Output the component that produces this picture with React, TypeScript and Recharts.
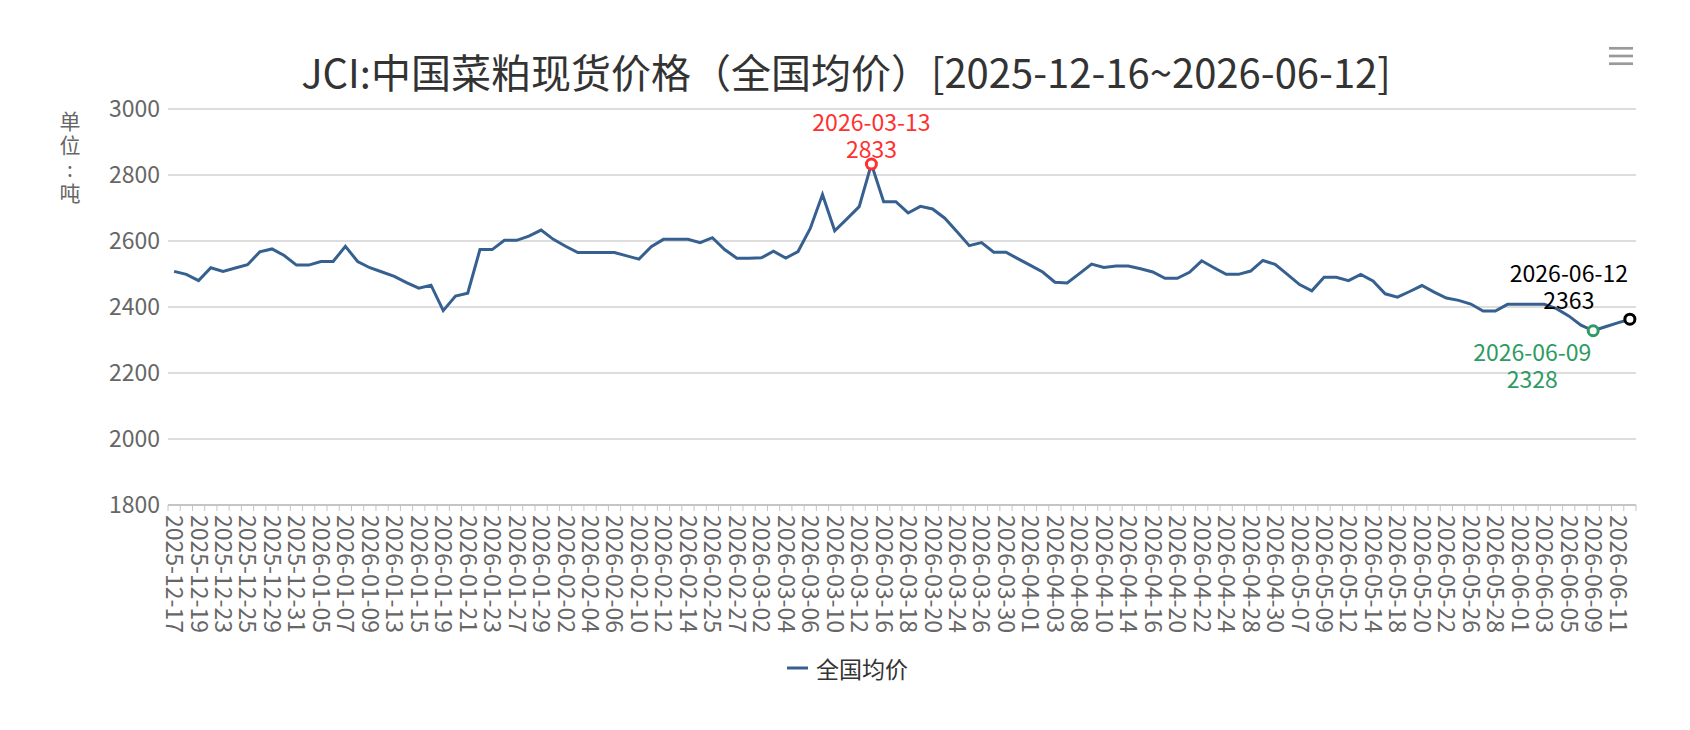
import React from 'react';
import { LineChart, Line, XAxis, YAxis, CartesianGrid } from 'recharts';

// ---------- data ----------
const dates = [
  '2025-12-17', '2025-12-18', '2025-12-19', '2025-12-22', '2025-12-23', '2025-12-24', '2025-12-25', '2025-12-26',
  '2025-12-29', '2025-12-30', '2025-12-31', '2026-01-04', '2026-01-05', '2026-01-06', '2026-01-07', '2026-01-08',
  '2026-01-09', '2026-01-12', '2026-01-13', '2026-01-14', '2026-01-15', '2026-01-16', '2026-01-19', '2026-01-20',
  '2026-01-21', '2026-01-22', '2026-01-23', '2026-01-26', '2026-01-27', '2026-01-28', '2026-01-29', '2026-01-30',
  '2026-02-02', '2026-02-03', '2026-02-04', '2026-02-05', '2026-02-06', '2026-02-09', '2026-02-10', '2026-02-11',
  '2026-02-12', '2026-02-13', '2026-02-14', '2026-02-24', '2026-02-25', '2026-02-26', '2026-02-27', '2026-02-28',
  '2026-03-02', '2026-03-03', '2026-03-04', '2026-03-05', '2026-03-06', '2026-03-09', '2026-03-10', '2026-03-11',
  '2026-03-12', '2026-03-13', '2026-03-16', '2026-03-17', '2026-03-18', '2026-03-19', '2026-03-20', '2026-03-23',
  '2026-03-24', '2026-03-25', '2026-03-26', '2026-03-27', '2026-03-30', '2026-03-31', '2026-04-01', '2026-04-02',
  '2026-04-03', '2026-04-07', '2026-04-08', '2026-04-09', '2026-04-10', '2026-04-13', '2026-04-14', '2026-04-15',
  '2026-04-16', '2026-04-17', '2026-04-20', '2026-04-21', '2026-04-22', '2026-04-23', '2026-04-24', '2026-04-27',
  '2026-04-28', '2026-04-29', '2026-04-30', '2026-05-06', '2026-05-07', '2026-05-08', '2026-05-09', '2026-05-11',
  '2026-05-12', '2026-05-13', '2026-05-14', '2026-05-15', '2026-05-18', '2026-05-19', '2026-05-20', '2026-05-21',
  '2026-05-22', '2026-05-25', '2026-05-26', '2026-05-27', '2026-05-28', '2026-05-29', '2026-06-01', '2026-06-02',
  '2026-06-03', '2026-06-04', '2026-06-05', '2026-06-08', '2026-06-09', '2026-06-10', '2026-06-11', '2026-06-12',
];

const values = [
  2508, 2499, 2480, 2519, 2508, 2518, 2528, 2567,
  2576, 2556, 2527, 2527, 2538, 2538, 2584, 2538,
  2519, 2506, 2493, 2474, 2457, 2466, 2389, 2433,
  2442, 2574, 2574, 2602, 2602, 2615, 2633, 2605,
  2584, 2565, 2565, 2565, 2565, 2555, 2545, 2583,
  2605, 2605, 2605, 2595, 2610, 2574, 2548, 2548,
  2549, 2569, 2548, 2568, 2638, 2741, 2631, 2667,
  2704, 2833, 2719, 2719, 2685, 2705, 2697, 2669,
  2628, 2586, 2595, 2566, 2566, 2546, 2526, 2506,
  2475, 2473, 2501, 2530, 2520, 2524, 2524, 2516,
  2506, 2487, 2487, 2505, 2540, 2519, 2499, 2499,
  2509, 2541, 2529, 2499, 2468, 2449, 2490, 2490,
  2480, 2499, 2479, 2440, 2430, 2447, 2465, 2445,
  2427, 2420, 2409, 2388, 2388, 2408, 2408, 2408,
  2408, 2395, 2373, 2345, 2328, 2340, 2352, 2363,
];

const yTicks = [1800, 2000, 2200, 2400, 2600, 2800, 3000];
const seriesName = '全国均价';
const titleText = 'JCI:中国菜粕现货价格（全国均价）[2025-12-16~2026-06-12]';
const unitText = '单位:吨';

// highlighted points: max (red), min (green), latest (black)
const highlightDates = ['2026-03-13', '2026-06-09', '2026-06-12'];
const highlightColors = ['#ff3030', '#2e9b62', '#000000'];
const highlightSides = ['above', 'below', 'above'];

const chartData = dates.map((d, i) => ({ date: d, value: values[i] }));

// ---------- layout / style ----------
const W = 1690;
const H = 730;
const Y_AXIS_W = 168;
const MARGIN_RIGHT = 54;
const MARGIN_TOP = 109;
const X_AXIS_H = 225;
const BAND = (W - Y_AXIS_W - MARGIN_RIGHT) / dates.length;
const FONT = '"Noto Sans CJK SC", "Noto Sans", sans-serif';
const LINE_COLOR = '#36608f';
const LABEL_COLOR = '#666666';
const GRID_COLOR = '#d2d2d2';
const SMALL = 23;

const XTick = (props: any) => {
  const { x, y, payload } = props;
  const i = payload && typeof payload.index === 'number' ? payload.index : props.index;
  const axisY = y - 10;
  const half = BAND / 2;
  return (
    <g>
      <line x1={x - half} x2={x - half} y1={axisY} y2={axisY + 6} stroke="#c4c4c4" strokeWidth={1} />
      {i === dates.length - 1 && (
        <line x1={x + half} x2={x + half} y1={axisY} y2={axisY + 6} stroke="#c4c4c4" strokeWidth={1} />
      )}
      {i % 2 === 0 && (
        <text
          x={x}
          y={y}
          dy="0.35em"
          textAnchor="start"
          transform={`rotate(90 ${x} ${y})`}
          fontSize={SMALL}
          fill={LABEL_COLOR}
          fontFamily={FONT}
        >
          {payload.value}
        </text>
      )}
    </g>
  );
};

const Dot = (props: any) => {
  const { cx, cy, index, payload } = props;
  const h = highlightDates.indexOf(payload.date);
  if (h < 0 || cx == null || cy == null) return <g key={`d${index}`} />;
  const color = highlightColors[h];
  const side = highlightSides[h];
  const last = index >= dates.length - 4;
  const tx = last ? cx - 61 : cx;
  const l1 = side === 'above' ? (last ? cy - 47 : cy - 43) : cy + 20;
  const l2 = side === 'above' ? (last ? cy - 20 : cy - 16) : cy + 47;
  return (
    <g key={`d${index}`}>
      <circle cx={cx} cy={cy} r={5} fill="#ffffff" stroke={color} strokeWidth={3} />
      <text textAnchor="middle" dominantBaseline="central" fontSize={SMALL} fill={color} fontFamily={FONT}>
        <tspan x={tx} y={l1}>{payload.date}</tspan>
        <tspan x={tx} y={l2}>{payload.value}</tspan>
      </text>
    </g>
  );
};

export default function App() {
  return (
    <div style={{ position: 'absolute', left: 0, top: 0, width: W, height: H, background: '#ffffff', fontFamily: FONT }}>
      <LineChart
        width={W}
        height={H}
        data={chartData}
        margin={{ top: MARGIN_TOP, right: MARGIN_RIGHT, left: 0, bottom: 0 }}
      >
        <CartesianGrid horizontal vertical={false} stroke={GRID_COLOR} strokeWidth={1.3} />
        <XAxis
          dataKey="date"
          type="category"
          interval={0}
          height={X_AXIS_H}
          padding={{ left: BAND / 2, right: BAND / 2 }}
          axisLine={{ stroke: '#bdbdbd', strokeWidth: 1.5 }}
          tickLine={false}
          tickSize={0}
          tickMargin={10}
          tick={(p: any) => <XTick {...p} />}
        />
        <YAxis
          type="number"
          domain={[1800, 3000]}
          ticks={yTicks}
          interval={0}
          width={Y_AXIS_W}
          axisLine={false}
          tickLine={false}
          tick={{ fontSize: SMALL, fill: LABEL_COLOR, fontFamily: FONT }}
        />
        <Line
          type="linear"
          dataKey="value"
          name={seriesName}
          stroke={LINE_COLOR}
          strokeWidth={3}
          dot={(p: any) => <Dot {...p} />}
          activeDot={false}
          isAnimationActive={false}
        />
      </LineChart>
      <svg
        width={W}
        height={H}
        style={{ position: 'absolute', left: 0, top: 0, pointerEvents: 'none' }}
      >
        <text x={846} y={71} textAnchor="middle" dominantBaseline="central" fontSize={40} fill="#333333" fontFamily={FONT}>
          {titleText}
        </text>
        <text
          x={70}
          y={111}
          fontSize={21}
          fill={LABEL_COLOR}
          fontFamily={FONT}
          style={{ writingMode: 'vertical-rl', textOrientation: 'upright', letterSpacing: '2.7px' }}
        >
          {unitText}
        </text>
        <g stroke="#9a9a9a" strokeWidth={2.7}>
          <line x1={1609} x2={1633} y1={48.3} y2={48.3} />
          <line x1={1609} x2={1633} y1={56} y2={56} />
          <line x1={1609} x2={1633} y1={63.7} y2={63.7} />
        </g>
        <line x1={787} x2={808} y1={668} y2={668} stroke={LINE_COLOR} strokeWidth={3} />
        <text x={816} y={668} dominantBaseline="central" fontSize={SMALL} fill="#333333" fontFamily={FONT}>
          {seriesName}
        </text>
      </svg>
    </div>
  );
}
